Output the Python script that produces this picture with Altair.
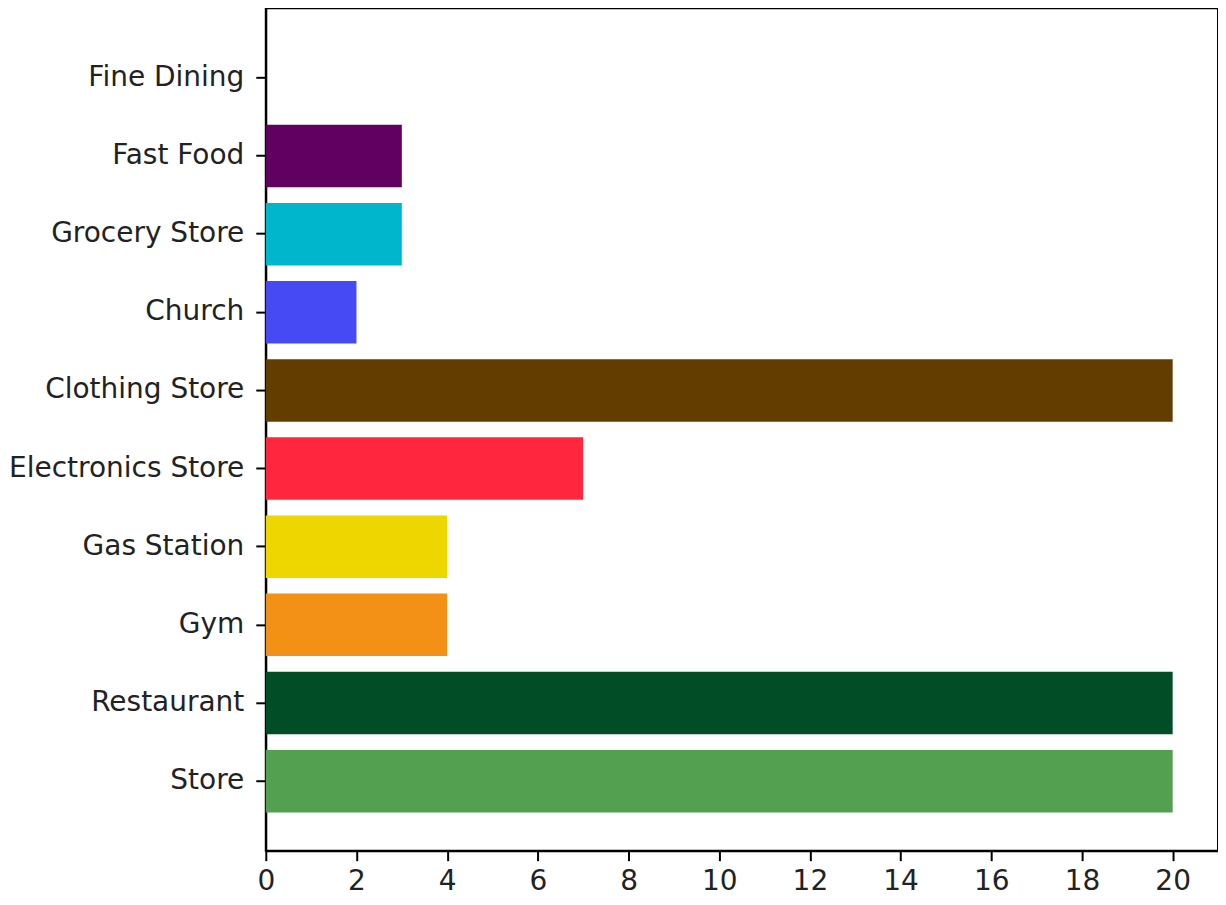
import altair as alt
import pandas as pd

categories = ["Fine Dining", "Fast Food", "Grocery Store", "Church", "Clothing Store",
              "Electronics Store", "Gas Station", "Gym", "Restaurant", "Store"]
counts = [0, 3, 3, 2, 20, 7, 4, 4, 20, 20]
colors = ["#620062", "#620062", "#00b6cc", "#464af5", "#633d00",
          "#ff263d", "#eed600", "#f29116", "#004d26", "#52a050"]
x_ticks = [0, 2, 4, 6, 8, 10, 12, 14, 16, 18, 20]

df = pd.DataFrame({"category": categories, "count": counts})

FONT = "DejaVu Sans"

chart = alt.Chart(df).mark_bar(stroke=None).encode(
    x=alt.X("count:Q",
            scale=alt.Scale(domain=[0, 21], nice=False, zero=True),
            axis=alt.Axis(values=x_ticks, title=None, grid=False, format="d",
                          tickSize=10, tickWidth=2, tickColor="black",
                          domainColor="black", domainWidth=2,
                          labelFontSize=28, labelColor="#222222", labelFont=FONT,
                          labelPadding=7, labelFlush=False)),
    y=alt.Y("category:N", sort=categories,
            scale=alt.Scale(paddingInner=0.2, paddingOuter=0.49),
            axis=alt.Axis(title=None, grid=False,
                          tickSize=10, tickWidth=2, tickColor="black",
                          domainColor="black", domainWidth=2,
                          labelFontSize=28, labelColor="#222222", labelFont=FONT,
                          labelPadding=12, labelLimit=500)),
    color=alt.Color("category:N",
                    scale=alt.Scale(domain=categories, range=colors),
                    legend=None),
).properties(
    width=953,
    height=843,
    padding={"left": 0, "top": 0, "right": 0, "bottom": 0},
).configure_view(
    stroke="black", strokeWidth=2
)

chart.save("out.html", embed_options={"renderer": "svg", "actions": False})
